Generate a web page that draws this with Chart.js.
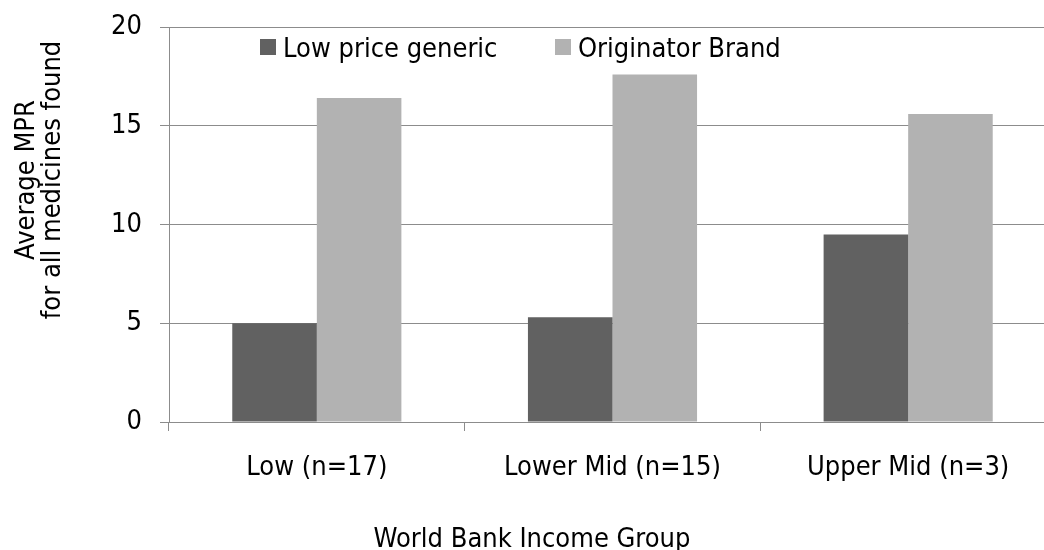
<!DOCTYPE html>
<html>
<head>
<meta charset="utf-8">
<script src="https://cdn.jsdelivr.net/npm/chart.js@4.4.1/dist/chart.umd.min.js"></script>
<style>
  html, body { margin: 0; padding: 0; background: #ffffff; overflow: hidden; }
  #wrap { position: relative; width: 1060px; height: 550px; }
</style>
</head>
<body>
<div id="wrap"><canvas id="c"></canvas></div>
<script>
const categories = ['Low (n=17)', 'Lower Mid (n=15)', 'Upper Mid (n=3)'];
const seriesNames = ['Low price generic', 'Originator Brand'];
const genericValues = [5.0, 5.3, 9.5];
const originatorValues = [16.4, 17.6, 15.6];
const yTicks = [0, 5, 10, 15, 20];
const yTitleLines = ['Average MPR', 'for all medicines found'];
const xTitle = 'World Bank Income Group';
const seriesColors = ['#616161', '#b2b2b2'];

// pick a condensed face if installed, else regular DejaVu Sans
const probe = document.createElement('canvas').getContext('2d');
probe.font = '40px "DejaVu Sans Condensed", monospace';
const wCond = probe.measureText('Low price generic').width;
probe.font = '40px monospace';
const wMono = probe.measureText('Low price generic').width;
const hasCond = Math.abs(wCond - wMono) > 0.5;
const FONT = hasCond ? '"DejaVu Sans Condensed", "DejaVu Sans", sans-serif' : '"DejaVu Sans", sans-serif';
const FSIZE = hasCond ? 27 : 25;

const customText = {
  id: 'customText',
  afterDraw(chart) {
    const ctx = chart.ctx;
    ctx.save();
    ctx.fillStyle = '#000';
    ctx.font = FSIZE + 'px ' + FONT;
    // legend (inside plot area)
    const items = chart.data.datasets.map(d => ({ label: d.label, color: d.backgroundColor }));
    const legendX = [260, 555];
    items.forEach((it, i) => {
      ctx.fillStyle = it.color;
      ctx.fillRect(legendX[i], 39, 16, 16);
      ctx.fillStyle = '#000';
      ctx.textAlign = 'left';
      ctx.textBaseline = 'alphabetic';
      ctx.fillText(it.label, legendX[i] + 23, 56.5);
    });
    // y axis title (two lines, rotated)
    ctx.save();
    ctx.translate(0, 180);
    ctx.rotate(-Math.PI / 2);
    ctx.textAlign = 'center';
    ctx.textBaseline = 'alphabetic';
    ctx.fillText(yTitleLines[0], 0, 34);
    ctx.fillText(yTitleLines[1], 0, 60);
    ctx.restore();
    // x axis title
    ctx.textAlign = 'center';
    ctx.textBaseline = 'alphabetic';
    ctx.fillText(xTitle, 532, 546.5);
    ctx.restore();
  }
};

new Chart(document.getElementById('c'), {
  type: 'bar',
  data: {
    labels: categories,
    datasets: [
      { label: seriesNames[0], data: genericValues, backgroundColor: seriesColors[0], borderWidth: 0 },
      { label: seriesNames[1], data: originatorValues, backgroundColor: seriesColors[1], borderWidth: 0 }
    ]
  },
  options: {
    responsive: true,
    maintainAspectRatio: false,
    animation: false,
    categoryPercentage: 0.572,
    barPercentage: 1.0,
    layout: { padding: { left: 0, right: 4, top: 27, bottom: 0 } },
    plugins: {
      legend: { display: false },
      tooltip: { enabled: false },
      title: { display: false }
    },
    scales: {
      x: {
        afterFit: (s) => { s.height = 128; s.paddingLeft = 0; s.paddingRight = 0; },
        grid: { display: true, drawOnChartArea: false, offset: true, tickLength: 9, color: '#8c8c8c', lineWidth: 1 },
        border: { display: true, color: '#8c8c8c', width: 1 },
        ticks: { color: '#000', font: { family: FONT, size: FSIZE }, padding: 21, maxRotation: 0, autoSkip: false }
      },
      y: {
        min: 0,
        max: 20,
        afterFit: (s) => { s.width = 169; s.paddingTop = 0; s.paddingBottom = 0; },
        afterBuildTicks: (s) => { s.ticks = yTicks.map(v => ({ value: v })); },
        grid: { color: '#8c8c8c', lineWidth: 1, tickLength: 9 },
        border: { display: true, color: '#8c8c8c', width: 1 },
        ticks: { color: '#000', font: { family: FONT, size: FSIZE }, padding: 18, stepSize: 5 }
      }
    }
  },
  plugins: [customText]
});
</script>
</body>
</html>
